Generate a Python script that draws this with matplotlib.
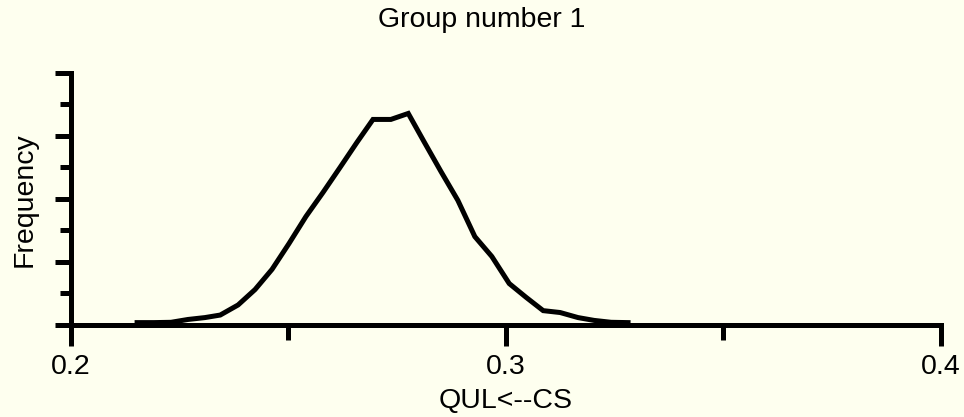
import matplotlib
matplotlib.use("Agg")
import matplotlib.pyplot as plt
from matplotlib.ticker import FixedLocator, NullFormatter

# Data
x_values = [0.2153, 0.2192, 0.2231, 0.2270, 0.2309, 0.2344, 0.2385, 0.2424,
            0.2463, 0.2502, 0.2541, 0.2580, 0.2619, 0.2658, 0.2695, 0.2736,
            0.2776, 0.2812, 0.2851, 0.2890, 0.2929, 0.2968, 0.3008, 0.3047,
            0.3086, 0.3125, 0.3166, 0.3203, 0.3242, 0.3281]
freq_values = [0.06, 0.06, 0.07, 0.16, 0.22, 0.30, 0.62, 1.11,
               1.75, 2.57, 3.43, 4.19, 4.98, 5.78, 6.51, 6.51,
               6.70, 5.81, 4.86, 3.94, 2.79, 2.16, 1.30, 0.86,
               0.44, 0.38, 0.22, 0.13, 0.07, 0.06]
x_major_ticks = [0.2, 0.3, 0.4]
x_major_labels = ["0.2", "0.3", "0.4"]
x_minor_ticks = [0.25, 0.35]
y_major_ticks = [0, 2, 4, 6, 8]
y_minor_ticks = [1, 3, 5, 7]

title = "Group number 1"
xlabel = "QUL<--CS"
ylabel = "Frequency"

bg = "#FEFFEF"
plt.rcParams['font.family'] = ['Liberation Sans', 'DejaVu Sans']

fig = plt.figure(figsize=(9.64, 4.17), dpi=100, facecolor=bg)
ax = fig.add_axes([70.5/964, 92.5/417, (941-70.5)/964, (325-73)/417])
ax.set_facecolor(bg)

ax.plot(x_values, freq_values, color="black", lw=3.6, solid_joinstyle="miter",
        clip_on=False)

ax.set_xlim(0.2, 0.4)
ax.set_ylim(0, 8)

for s in ["top", "right"]:
    ax.spines[s].set_visible(False)
for s in ["left", "bottom"]:
    ax.spines[s].set_linewidth(3.6)
    ax.spines[s].set_capstyle("projecting")

ax.xaxis.set_major_locator(FixedLocator(x_major_ticks))
ax.set_xticklabels(x_major_labels)
ax.xaxis.set_minor_locator(FixedLocator(x_minor_ticks))
ax.yaxis.set_major_locator(FixedLocator(y_major_ticks))
ax.yaxis.set_minor_locator(FixedLocator(y_minor_ticks))
ax.yaxis.set_major_formatter(NullFormatter())

ax.tick_params(axis="x", which="major", direction="out", length=15, width=3.6,
               labelsize=20.5, pad=6)
ax.tick_params(axis="x", which="minor", direction="out", length=11, width=3.6)
ax.tick_params(axis="y", which="major", direction="out", length=11.5, width=3.6)
ax.tick_params(axis="y", which="minor", direction="out", length=8, width=3.6)

fig.text(0.5, 1 - 20/417, title, ha="center", va="center", fontsize=20.5)
fig.text(25/964, 1 - 200/417, ylabel, ha="center", va="center", rotation=90,
         fontsize=20.5)
fig.text(506/964, 1 - 401/417, xlabel, ha="center", va="center", fontsize=20.5)

fig.savefig("out.png", dpi=100, facecolor=bg)
